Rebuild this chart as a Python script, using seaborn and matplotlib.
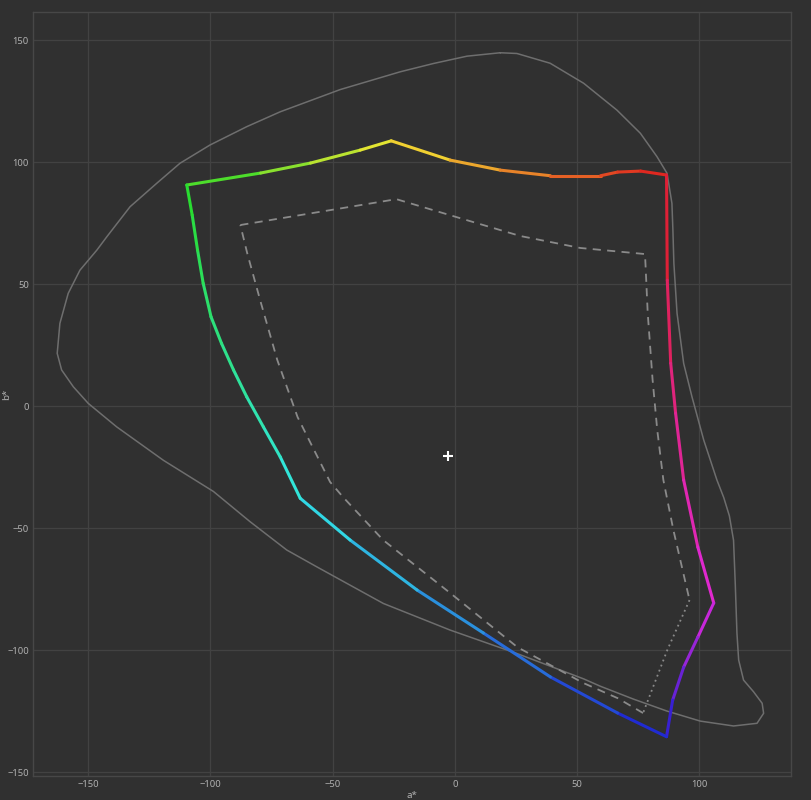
import numpy as np
import pandas as pd
import matplotlib
matplotlib.use("Agg")
import matplotlib.pyplot as plt
import seaborn as sns
from matplotlib.collections import LineCollection

# ---------------- data (a*, b*) ----------------
# spectral locus outline
locus_a = [18.6, 25.4, 39.0, 52.7, 66.3, 75.9, 82.7, 86.8, 88.8, 89.2, 89.6, 90.9, 93.6,
           97.0, 101.8, 107.2, 110.0, 112.3, 114.0, 114.7, 115.4, 116.1, 118.1, 122.2, 125.7,
           126.3, 123.6, 114.0, 100.4, 86.8, 73.1, 59.5, 52.7, 25.4, -1.9, -29.2, -56.4,
           -68.7, -83.7, -98.7, -119.2, -138.3, -149.9, -156.0, -160.8, -162.6, -161.5,
           -158.1, -153.3, -146.4, -142.3, -132.8, -121.9, -112.4, -100.1, -85.1, -71.4,
           -46.9, -22.3, -8.7, 5.0, 18.6]
locus_b = [144.8, 144.5, 140.5, 132.3, 121.3, 111.8, 102.2, 95.4, 83.1, 72.1, 58.5, 38.0, 17.5,
           3.8, -13.9, -30.3, -37.5, -45.0, -55.0, -72.7, -93.2, -104.1, -112.3, -117.1, -121.8,
           -125.9, -130.0, -131.1, -129.1, -125.0, -120.1, -114.8, -111.8, -101.4, -91.8, -80.9, -65.9,
           -59.0, -47.4, -35.0, -22.2, -8.5, 1.1, 7.9, 14.8, 21.6, 33.9,
           46.2, 55.7, 63.9, 69.4, 81.7, 91.3, 99.5, 107.0, 114.5, 120.6,
           129.7, 137.0, 140.4, 143.4, 144.8]

# measured gamut boundary (coloured), G -> Y -> R -> M -> B -> C -> G
gamut_a = [-109.6, -79.4, -59.0, -38.7, -26.0, -1.9, 18.6, 39.1, 59.6, 66.6, 76.0, 86.6,
           86.9, 88.3, 90.3, 93.6, 99.4, 105.9, 99.4, 93.6, 89.1, 86.6,
           66.6, 39.1, 11.7, -15.4, -42.8, -63.2, -71.4, -78.3, -85.1, -90.5, -95.4,
           -99.7, -102.9, -105.2, -107.4, -109.6]
gamut_b = [90.6, 95.5, 99.6, 104.9, 108.7, 100.8, 96.7, 94.4, 94.4, 95.9, 96.3, 94.7,
           51.6, 17.6, -2.9, -30.3, -57.8, -80.7, -94.7, -107.0, -120.5, -135.5,
           -125.8, -111.0, -93.0, -75.4, -54.9, -37.8, -20.8, -8.5, 3.8, 14.8, 25.7,
           36.6, 50.3, 63.9, 78.3, 90.6]
gamut_corners = [0, 4, 11, 17, 21, 27, 37]
corner_names = ["green", "yellow", "red", "magenta", "blue", "cyan", "green"]

# reference gamut (dashed)
ref_a = [-87.7, -23.9, 2.2, 26.8, 51.3, 77.8, 78.9, 80.9, 82.8, 85.3, 89.4, 96.0,
         86.9, 77.0, 66.6, 52.6, 25.6, -1.9, -29.3, -45.7, -51.0, -64.3, -72.6, -79.6, -84.9, -87.7]
ref_b = [74.2, 84.8, 77.0, 69.7, 64.8, 62.3, 38.1, 10.7, -9.8, -30.3, -50.8, -79.5,
         -100.0, -125.8, -119.7, -113.5, -98.8, -76.6, -54.9, -37.3, -31.1, -4.5, 18.9, 43.4, 62.7, 74.2]
ref_dotted = (11, 13)   # index range drawn dotted

white_point = ([-2.6], [-20.4])

x_ticks = [-150, -100, -50, 0, 50, 100]
y_ticks = [-150, -100, -50, 0, 50, 100, 150]

# ---------------- style ----------------
BG = "#303030"
sns.set_theme(style="dark", rc={
    "figure.facecolor": BG, "axes.facecolor": BG, "axes.edgecolor": "#474747",
    "grid.color": "#424242", "text.color": "#b0b0b0", "axes.labelcolor": "#b0b0b0",
    "xtick.color": "#b0b0b0", "ytick.color": "#b0b0b0",
})
plt.rcParams['font.family'] = ['Noto Sans', 'DejaVu Sans']

fig = plt.figure(figsize=(8.12, 8.0), dpi=100)
ax = fig.add_axes([33 / 812, 1 - 776 / 800, (791 - 33) / 812, (776 - 12) / 800])

ax.set_xlim(-172.5, 137.5)
ax.set_ylim(-151.6, 161.5)
ax.set_xticks(x_ticks)
ax.set_yticks(y_ticks)
ax.grid(True, color="#424242", lw=0.9)
ax.tick_params(length=0, labelsize=6.8, pad=3)
for s in ax.spines.values():
    s.set_color("#474747")
    s.set_linewidth(1.0)

# locus outline
locus = pd.DataFrame({"a": locus_a, "b": locus_b})
sns.lineplot(data=locus, x="a", y="b", sort=False, estimator=None, color="#6e6e6e",
             lw=1.1, ax=ax)
ax.lines[-1].set_solid_joinstyle("round")

# reference gamut: dashed, with one dotted edge
ref = pd.DataFrame({"a": ref_a, "b": ref_b})
i0, i1 = ref_dotted
dashed1 = ref.iloc[:i0 + 1]
dotted = ref.iloc[i0:i1 + 1]
dashed2 = ref.iloc[i1:]
for part, dash in [(dashed1, (4.5, 3.5)), (dashed2, (4.5, 3.5)), (dotted, (1, 2))]:
    sns.lineplot(data=part, x="a", y="b", sort=False, estimator=None, color="#8a8a8a",
                 lw=1.3, ax=ax)
    ax.lines[-1].set_dashes(dash)

# coloured gamut boundary
corner_rgb = {
    "green": (0.16, 0.86, 0.16), "yellow": (0.95, 0.90, 0.20), "red": (0.87, 0.12, 0.12),
    "magenta": (0.88, 0.16, 0.86), "blue": (0.12, 0.12, 0.82), "cyan": (0.20, 0.90, 0.90),
}
pts = np.column_stack([gamut_a, gamut_b])
cols = [None] * len(pts)
for k in range(len(gamut_corners) - 1):
    s, e = gamut_corners[k], gamut_corners[k + 1]
    seg = pts[s:e + 1]
    d = np.concatenate([[0], np.cumsum(np.hypot(*np.diff(seg, axis=0).T))])
    t = d / d[-1]
    c0 = np.array(corner_rgb[corner_names[k]])
    c1 = np.array(corner_rgb[corner_names[k + 1]])
    for j, tt in enumerate(t):
        cols[s + j] = c0 * (1 - tt) + c1 * tt
segs = [pts[i:i + 2] for i in range(len(pts) - 1)]
seg_cols = [(cols[i] + cols[i + 1]) / 2 for i in range(len(pts) - 1)]
lc = LineCollection(segs, colors=seg_cols, linewidths=2.2, capstyle="round",
                    joinstyle="round", zorder=4)
ax.add_collection(lc)

# white point marker
sns.scatterplot(x=white_point[0], y=white_point[1], marker="+", s=55, color="white",
                linewidth=1.5, ax=ax, zorder=5)

ax.set_xlabel("a*", fontsize=7, labelpad=1)
ax.set_ylabel("b*", fontsize=7)
ax.yaxis.set_label_coords(-(33 - 11) / 758, 0.5)

fig.savefig("out.png", dpi=100, facecolor=BG)
